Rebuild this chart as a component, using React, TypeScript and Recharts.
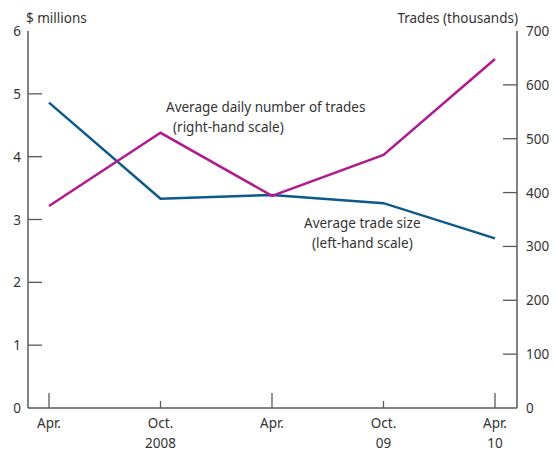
import React from "react"
import { LineChart, Line, XAxis, YAxis } from "recharts"

const periods = ["2008-04", "2008-10", "2009-04", "2009-10", "2010-04"]
const monthLabels = ["Apr.", "Oct.", "Apr.", "Oct.", "Apr."]
const yearLabels = ["", "2008", "", "09", "10"]
const tradeSize = [4.86, 3.33, 3.39, 3.26, 2.7] // $ millions, left scale
const dailyTrades = [375, 511, 394, 470, 648] // thousands, right scale
const leftTicks = [0, 1, 2, 3, 4, 5, 6]
const rightTicks = [0, 100, 200, 300, 400, 500, 600, 700]

const data = periods.map((p, i) => ({ period: p, size: tradeSize[i], trades: dailyTrades[i] }))

const BLUE = "#0b5a8a"
const MAGENTA = "#b01c8e"
const AXIS = "#5a5a5a"
const TEXT = "#333"
const FONT = "'Noto Sans', sans-serif"
const TICK_LEN = 14

function LeftTick(props: any) {
  const { x, y, payload } = props
  const axisX = x + 7
  return (
    <g>
      {payload.value > 0 && payload.value < 6 && (
        <line x1={axisX} x2={axisX + TICK_LEN} y1={y} y2={y} stroke={AXIS} strokeWidth={1.3} />
      )}
      <text x={x} y={y} textAnchor="end" dominantBaseline="central" fill={TEXT} fontSize={13.5} fontFamily={FONT}>
        {payload.value}
      </text>
    </g>
  )
}

function RightTick(props: any) {
  const { x, y, payload } = props
  const axisX = x - 9
  return (
    <g>
      {payload.value > 0 && payload.value < 700 && (
        <line x1={axisX} x2={axisX - TICK_LEN} y1={y} y2={y} stroke={AXIS} strokeWidth={1.3} />
      )}
      <text x={x} y={y} textAnchor="start" dominantBaseline="central" fill={TEXT} fontSize={13.5} fontFamily={FONT}>
        {payload.value}
      </text>
    </g>
  )
}

function BottomTick(props: any) {
  const { x, y, index } = props
  const axisY = y
  const len = monthLabels[index] === "Apr." ? 15 : 7
  return (
    <g>
      <line x1={x} x2={x} y1={axisY} y2={axisY - len} stroke={AXIS} strokeWidth={1.3} />
      <text x={x} y={axisY + 15} textAnchor="middle" dominantBaseline="central" fill={TEXT} fontSize={13.5} fontFamily={FONT}>
        {monthLabels[index]}
      </text>
      <text x={x} y={axisY + 35} textAnchor="middle" dominantBaseline="central" fill={TEXT} fontSize={13.5} fontFamily={FONT}>
        {yearLabels[index]}
      </text>
    </g>
  )
}

const noteStyle: React.CSSProperties = {
  position: "absolute",
  fontFamily: FONT,
  fontSize: 13.5,
  color: TEXT,
  lineHeight: "20px",
  whiteSpace: "nowrap",
}

export default function App() {
  return (
    <div style={{ position: "absolute", left: 0, top: 0, width: 555, height: 452, background: "#fff" }}>
      <LineChart width={555} height={452} data={data} margin={{ top: 31, right: 0, bottom: 0, left: 0 }}>
        <XAxis
          dataKey="period"
          xAxisId="bottom"
          height={44}
          padding={{ left: 21, right: 22 }}
          axisLine={{ stroke: AXIS, strokeWidth: 1.5 }}
          tickLine={false}
          tickSize={0}
          tickMargin={0}
          interval={0}
          tick={BottomTick}
        />
        <XAxis
          dataKey="period"
          xAxisId="top"
          orientation="top"
          height={0}
          tick={false}
          tickLine={false}
          axisLine={{ stroke: AXIS, strokeWidth: 1.5 }}
        />
        <YAxis
          yAxisId="left"
          orientation="left"
          width={28}
          domain={[0, 6]}
          ticks={leftTicks}
          interval={0}
          axisLine={{ stroke: AXIS, strokeWidth: 1.5 }}
          tickLine={false}
          tickSize={0}
          tickMargin={7}
          tick={LeftTick}
        />
        <YAxis
          yAxisId="right"
          orientation="right"
          width={38}
          domain={[0, 700]}
          ticks={rightTicks}
          interval={0}
          axisLine={{ stroke: AXIS, strokeWidth: 1.5 }}
          tickLine={false}
          tickSize={0}
          tickMargin={9}
          tick={RightTick}
        />
        <Line
          xAxisId="bottom"
          yAxisId="left"
          dataKey="size"
          stroke={BLUE}
          strokeWidth={2.5}
          dot={false}
          isAnimationActive={false}
        />
        <Line
          xAxisId="bottom"
          yAxisId="right"
          dataKey="trades"
          stroke={MAGENTA}
          strokeWidth={2.5}
          dot={false}
          isAnimationActive={false}
        />
      </LineChart>
      <div style={{ ...noteStyle, left: 26, top: 8 }}>$ millions</div>
      <div style={{ ...noteStyle, right: 37, top: 8 }}>Trades (thousands)</div>
      <div style={{ ...noteStyle, left: 166, top: 97 }}>Average daily number of trades</div>
      <div style={{ ...noteStyle, left: 173, top: 117 }}>(right-hand scale)</div>
      <div style={{ ...noteStyle, left: 304, top: 213 }}>Average trade size</div>
      <div style={{ ...noteStyle, left: 312, top: 233 }}>(left-hand scale)</div>
    </div>
  )
}
